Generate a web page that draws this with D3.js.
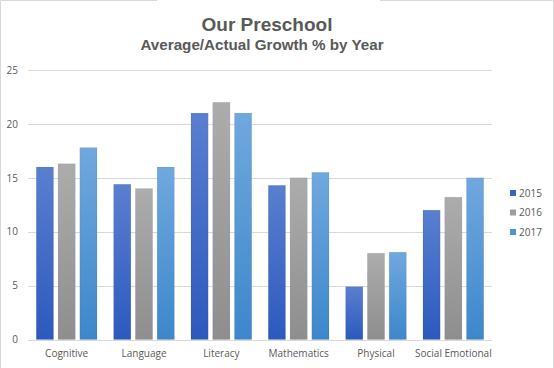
<!DOCTYPE html>
<html>
<head>
<meta charset="utf-8">
<script src="https://cdn.jsdelivr.net/npm/d3@7"></script>
<style>
  body { margin: 0; background: #fff; }
  text { font-family: "Open Sans", "Liberation Sans", sans-serif; }
  .title { font-family: "Liberation Sans", Arial, sans-serif; }
</style>
</head>
<body>
<div id="chart"></div>
<script>
// chart data
var categories = ["Cognitive", "Language", "Literacy", "Mathematics", "Physical", "Social Emotional"];
var years = ["2015", "2016", "2017"];
var values2015 = [16, 14.4, 21, 14.3, 4.9, 12];
var values2016 = [16.3, 14, 22, 15, 8, 13.2];
var values2017 = [17.8, 16, 21, 15.5, 8.1, 15];
var yTicks = [0, 5, 10, 15, 20, 25];

var seriesValues = [values2015, values2016, values2017];

// colours: top / bottom of each bar gradient
var colors = [
  {top: "#5a7fd0", bottom: "#2c59bd", legend: "#3864c4"},
  {top: "#acacac", bottom: "#8e8e8e", legend: "#9e9e9e"},
  {top: "#70a8de", bottom: "#3d87cb", legend: "#4a93d6"}
];

var width = 554, height = 368;
var margin = {top: 70, right: 62, bottom: 28.5, left: 28};

var svg = d3.select("#chart")
  .append("svg")
  .attr("width", width)
  .attr("height", height);

// frame
svg.append("path")
  .attr("d", "M0.5,368 V0.5 H157 M380,0.5 H553.5 V368")
  .attr("fill", "none")
  .attr("stroke", "#d9d9d9")
  .attr("stroke-width", 1);

var defs = svg.append("defs");
colors.forEach(function(c, i) {
  var g = defs.append("linearGradient")
    .attr("id", "grad" + i)
    .attr("x1", 0).attr("y1", 0).attr("x2", 0).attr("y2", 1);
  g.append("stop").attr("offset", "0%").attr("stop-color", c.top);
  g.append("stop").attr("offset", "100%").attr("stop-color", c.bottom);
});

var x0 = d3.scaleBand()
  .domain(categories)
  .range([margin.left, width - margin.right])
  .paddingInner(0.215)
  .paddingOuter(0.1075);

var x1 = d3.scaleBand()
  .domain(years)
  .range([0, x0.bandwidth()])
  .paddingInner(0.21);

var y = d3.scaleLinear()
  .domain([0, 25])
  .range([height - margin.bottom, margin.top]);

// gridlines
svg.append("g")
  .selectAll("line")
  .data(yTicks)
  .enter().append("line")
  .attr("x1", margin.left)
  .attr("x2", width - margin.right)
  .attr("y1", function(d) { return Math.round(y(d)) + 0.5; })
  .attr("y2", function(d) { return Math.round(y(d)) + 0.5; })
  .attr("stroke", "#d9d9d9")
  .attr("stroke-width", 1);

// y axis labels
var yAxis = d3.axisLeft(y).tickValues(yTicks).tickSize(0).tickPadding(10);
var gy = svg.append("g")
  .attr("transform", "translate(" + margin.left + ",0)")
  .call(yAxis);
gy.select(".domain").remove();
gy.selectAll("text")
  .attr("fill", "#595959")
  .style("font-size", "10px");

// x axis labels
var xAxis = d3.axisBottom(x0).tickSize(0).tickPadding(10);
var gx = svg.append("g")
  .attr("transform", "translate(0," + (height - margin.bottom) + ")")
  .call(xAxis);
gx.select(".domain").remove();
gx.selectAll("text")
  .attr("fill", "#595959")
  .style("font-size", "10px");

// bars
var groups = svg.append("g")
  .selectAll("g")
  .data(categories)
  .enter().append("g")
  .attr("transform", function(d) { return "translate(" + x0(d) + ",0)"; });

groups.selectAll("rect")
  .data(function(d, i) {
    return years.map(function(yr, s) { return {year: yr, s: s, value: seriesValues[s][i]}; });
  })
  .enter().append("rect")
  .attr("x", function(d) { return x1(d.year); })
  .attr("y", function(d) { return y(d.value); })
  .attr("width", x1.bandwidth())
  .attr("height", function(d) { return y(0) - y(d.value); })
  .attr("fill", function(d) { return "url(#grad" + d.s + ")"; })
  .attr("stroke", "rgba(0,0,0,0.08)")
  .attr("stroke-width", 0.8);

// titles
svg.append("text")
  .attr("class", "title")
  .attr("x", 267)
  .attr("y", 31)
  .attr("text-anchor", "middle")
  .attr("fill", "#595959")
  .style("font-size", "19px")
  .style("font-weight", "bold")
  .text("Our Preschool");

svg.append("text")
  .attr("class", "title")
  .attr("x", 262)
  .attr("y", 50)
  .attr("text-anchor", "middle")
  .attr("fill", "#595959")
  .style("font-size", "15.2px")
  .style("font-weight", "bold")
  .text("Average/Actual Growth % by Year");

// legend
var legend = svg.append("g")
  .attr("transform", "translate(510,193)");

var items = legend.selectAll("g")
  .data(years)
  .enter().append("g")
  .attr("transform", function(d, i) { return "translate(0," + (i * 19.5) + ")"; });

items.append("rect")
  .attr("x", 0)
  .attr("y", -3)
  .attr("width", 6)
  .attr("height", 6)
  .attr("fill", function(d, i) { return colors[i].legend; });

items.append("text")
  .attr("x", 9)
  .attr("y", 0)
  .attr("dy", "0.35em")
  .attr("fill", "#595959")
  .style("font-size", "10px")
  .text(function(d) { return d; });
</script>
</body>
</html>
